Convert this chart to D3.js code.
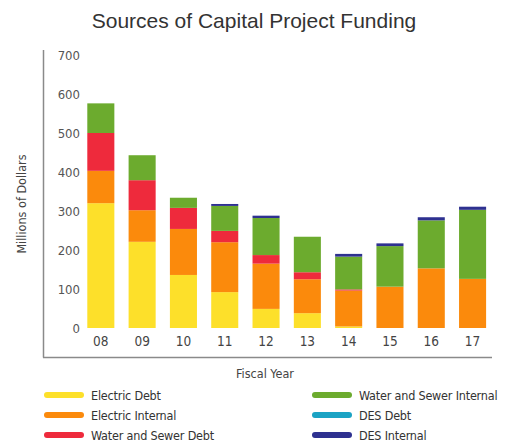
<!DOCTYPE html>
<html><head><meta charset="utf-8">
<script src="https://cdn.jsdelivr.net/npm/d3@7"></script>
<style>
body{margin:0;background:#fff;}
text{font-family:"DejaVu Sans Condensed","DejaVu Sans",sans-serif;font-stretch:condensed;}
</style></head>
<body><svg id="c" width="508" height="442"></svg>
<script>
const categories = ["08","09","10","11","12","13","14","15","16","17"];
const electricDebt       = [320, 221, 136, 92, 49, 38, 4, 0, 0, 0];
const electricInternal   = [83, 81, 118, 128, 116, 87, 92, 106, 153, 126];
const waterSewerDebt     = [97, 77, 54, 29, 22, 18, 3, 0, 0, 0];
const waterSewerInternal = [76, 64, 26, 64, 95, 91, 84, 104, 123, 177];
const desDebt            = [0, 0, 0, 0, 0, 0, 0, 0, 0, 0];
const desInternal        = [0, 0, 0, 5, 6, 0, 7, 7, 8, 8];
const yTicks = [0,100,200,300,400,500,600,700];
const seriesNames = ["Electric Debt","Electric Internal","Water and Sewer Debt","Water and Sewer Internal","DES Debt","DES Internal"];
const seriesColors = ["#fde02a","#fb8a0c","#ee2a3c","#6cab2e","#1ba3c4","#2e3190"];
const seriesData = [electricDebt, electricInternal, waterSewerDebt, waterSewerInternal, desDebt, desInternal];

const svg = d3.select("#c");
const keys = seriesNames;
const rows = categories.map((c,i)=>{const o={cat:c}; keys.forEach((k,j)=>o[k]=seriesData[j][i]); return o;});
const stack = d3.stack().keys(keys)(rows);

const x = d3.scaleBand().domain(categories).range([79.2, 494.2]).paddingInner(0.345).paddingOuter(0.196);
const y = d3.scaleLinear().domain([0,700]).range([328, 55]);

// title
svg.append("text").attr("x",254).attr("y",28).attr("text-anchor","middle")
  .style("font-family","'Liberation Sans',Arial,sans-serif").style("font-stretch","normal").style("font-size","21px").attr("fill","#333")
  .text("Sources of Capital Project Funding");

// frame
svg.append("line").attr("x1",43.5).attr("x2",43.5).attr("y1",50).attr("y2",357.5).attr("stroke","#8a8a8a").attr("stroke-width",1.5);
svg.append("line").attr("x1",43).attr("x2",492).attr("y1",357.5).attr("y2",357.5).attr("stroke","#8a8a8a").attr("stroke-width",1.5);

// bars
const g = svg.append("g");
g.selectAll("g.s").data(stack).join("g").attr("fill",(d,i)=>seriesColors[i])
  .selectAll("rect").data(d=>d).join("rect")
  .attr("x",d=>x(d.data.cat)).attr("width",x.bandwidth())
  .attr("y",d=>y(d[1])).attr("height",d=>Math.max(0,y(d[0])-y(d[1])));

// y axis labels
const ya = svg.append("g").attr("transform","translate(80,0)")
  .call(d3.axisLeft(y).tickValues(yTicks).tickSize(0).tickPadding(0));
ya.select(".domain").remove();
ya.selectAll("text").style("font-size","13px").attr("fill","#555");

// x axis labels
const xa = svg.append("g").attr("transform","translate(0,336)")
  .call(d3.axisBottom(x).tickSize(0).tickPadding(0));
xa.select(".domain").remove();
xa.selectAll("text").style("font-size","13.5px").attr("fill","#444");

// axis titles
svg.append("text").attr("transform","translate(26,204) rotate(-90)").attr("text-anchor","middle")
  .style("font-size","12.5px").attr("fill","#444").text("Millions of Dollars");
svg.append("text").attr("x",265).attr("y",378).attr("text-anchor","middle")
  .style("font-size","12.5px").attr("fill","#444").text("Fiscal Year");

// legend
const legPos = [[44,395],[44,415],[44,435],[312,395],[312,415],[312,435]];
seriesNames.forEach((n,i)=>{
  const [lx,ly]=legPos[i];
  svg.append("line").attr("x1",lx+3).attr("x2",lx+37).attr("y1",ly).attr("y2",ly)
    .attr("stroke",seriesColors[i]).attr("stroke-width",6).attr("stroke-linecap","round");
  svg.append("text").attr("x",lx+47).attr("y",ly+4.5).style("font-size","12.5px").style("letter-spacing","-0.2px").attr("fill","#333").text(n);
});
</script></body></html>
